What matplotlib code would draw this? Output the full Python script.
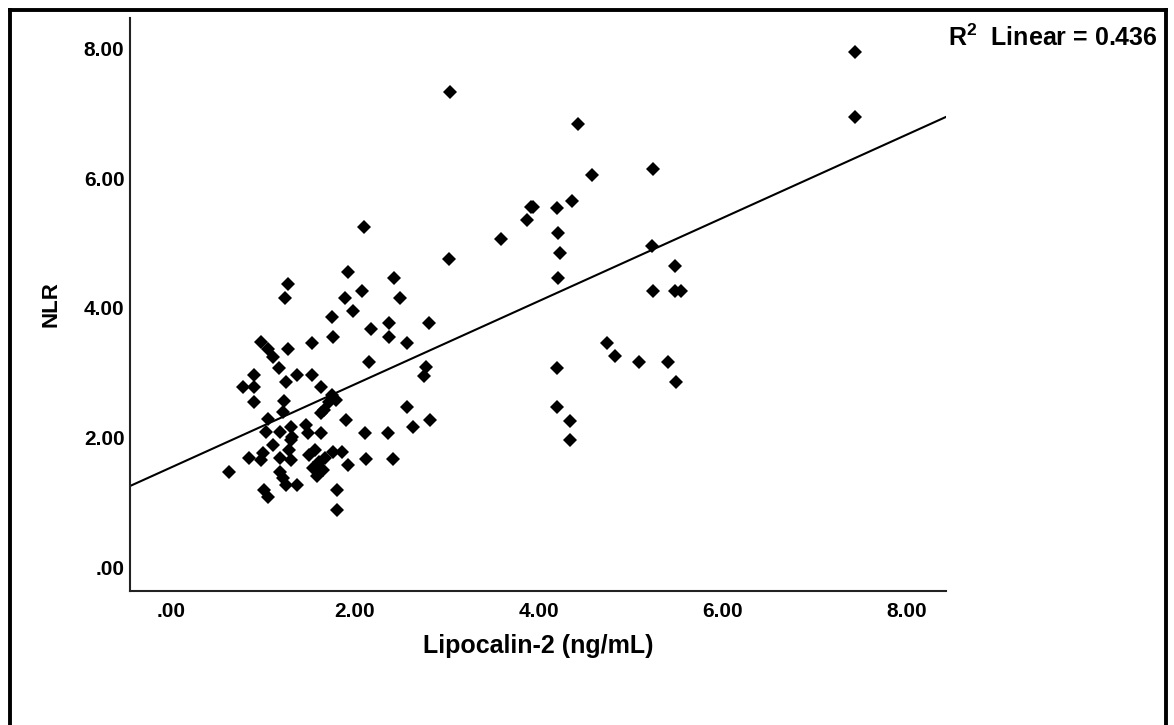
import matplotlib
matplotlib.use("Agg")
import matplotlib.pyplot as plt
from matplotlib.lines import Line2D
import numpy as np

plt.rcParams['font.family'] = ['Liberation Sans', 'DejaVu Sans']
plt.rcParams['font.weight'] = 'bold'
plt.rcParams['mathtext.fontset'] = 'custom'
plt.rcParams['mathtext.rm'] = 'Liberation Sans:bold'
plt.rcParams['mathtext.default'] = 'rm'

# Lipocalin-2 (ng/mL) vs NLR
lipocalin = [
    3.03, 7.44, 7.44, 4.43, 5.24, 4.58, 4.36, 3.91, 3.94, 4.20,
    3.87, 3.59, 4.21, 4.23, 3.02, 5.23, 4.21, 5.48, 5.24, 5.48,
    5.54, 4.74, 4.83, 5.09, 5.40, 5.49, 4.20, 4.20, 4.34, 4.34,
    2.10, 1.27, 1.24, 1.92, 2.08, 1.89, 2.42, 2.49, 1.98, 1.75,
    1.76, 2.18, 2.37, 2.37, 2.81, 2.57, 1.53, 0.98, 1.06, 1.11,
    1.27, 2.15, 1.18, 1.37, 1.53, 0.90, 0.78, 0.90, 0.90, 1.25,
    1.63, 2.77, 2.75, 1.75, 1.79, 1.72, 1.23, 2.57, 1.66, 1.63,
    1.22, 1.05, 1.90, 2.82, 2.63, 1.03, 1.19, 1.30, 1.32, 1.47,
    1.49, 1.63, 2.11, 2.36, 1.11, 1.30, 1.28, 1.00, 0.98, 0.85,
    1.19, 1.30, 1.76, 1.86, 1.92, 2.12, 2.41, 0.63, 1.19, 1.22,
    1.25, 1.37, 1.01, 1.06, 1.81, 1.81,
    1.50, 1.57, 1.61, 1.54, 1.65, 1.59, 1.68,
]
nlr = [
    7.33, 7.95, 6.94, 6.84, 6.14, 6.05, 5.65, 5.56, 5.56, 5.54,
    5.35, 5.06, 5.15, 4.85, 4.75, 4.95, 4.46, 4.65, 4.26, 4.26,
    4.26, 3.46, 3.26, 3.16, 3.16, 2.85, 3.07, 2.47, 2.25, 1.96,
    5.25, 4.37, 4.15, 4.55, 4.26, 4.15, 4.46, 4.15, 3.95, 3.86,
    3.55, 3.67, 3.77, 3.55, 3.77, 3.46, 3.46, 3.47, 3.36, 3.24,
    3.36, 3.16, 3.07, 2.96, 2.96, 2.96, 2.78, 2.78, 2.55, 2.85,
    2.78, 3.09, 2.95, 2.65, 2.58, 2.55, 2.56, 2.47, 2.42, 2.38,
    2.39, 2.28, 2.27, 2.27, 2.16, 2.08, 2.08, 2.16, 2.01, 2.19,
    2.07, 2.07, 2.07, 2.07, 1.88, 1.96, 1.81, 1.76, 1.65, 1.68,
    1.68, 1.65, 1.77, 1.77, 1.57, 1.67, 1.67, 1.47, 1.47, 1.37,
    1.27, 1.27, 1.19, 1.08, 1.19, 0.88,
    1.73, 1.81, 1.62, 1.53, 1.50, 1.40, 1.68,
]
tick_vals = [0, 2, 4, 6, 8]
tick_labels = ['.00', '2.00', '4.00', '6.00', '8.00']
r2_text = r'R$^{2}$  Linear = 0.436'

x = np.array(lipocalin)
y = np.array(nlr)

fig = plt.figure(figsize=(11.74, 7.25), dpi=100)
ax = fig.add_axes([0.1107, 0.1848, 0.6951, 0.7904])

xlim = (-0.445, 8.425)
ylim = (-0.37, 8.47)

# least squares line across the full x range
slope, intercept = np.polyfit(x, y, 1)
xx = np.array(xlim)
ax.plot(xx, intercept + slope * xx, color='black', lw=1.5, zorder=2)

ax.plot(x, y, linestyle='none', marker='D', markersize=7.4,
        color='black', markeredgewidth=0, zorder=3)

ax.set_xlim(*xlim)
ax.set_ylim(*ylim)
ax.set_xticks(tick_vals)
ax.set_xticklabels(tick_labels)
ax.set_yticks(tick_vals)
ax.set_yticklabels(tick_labels)
ax.tick_params(length=0, labelsize=15)
ax.tick_params(axis='x', pad=8)
ax.tick_params(axis='y', pad=4)

for side in ['top', 'right']:
    ax.spines[side].set_visible(False)
for side in ['left', 'bottom']:
    ax.spines[side].set_color('#222222')
    ax.spines[side].set_linewidth(1.5)

ax.set_xlabel('Lipocalin-2 (ng/mL)', fontsize=18, fontweight='bold', labelpad=9)
ax.set_ylabel('NLR', fontsize=16, fontweight='bold', labelpad=16)

fig.text(948 / 1174, 1 - 38 / 725, r2_text, fontsize=18, fontweight='bold',
         ha='left', va='center')

# outer frame (left, top, right)
fw = 2.8
fig.add_artist(Line2D([10 / 1174, 10 / 1174], [0, 1 - 9.5 / 725],
                      transform=fig.transFigure, color='black', lw=fw))
fig.add_artist(Line2D([10 / 1174, 1165.5 / 1174], [1 - 9.5 / 725, 1 - 9.5 / 725],
                      transform=fig.transFigure, color='black', lw=fw))
fig.add_artist(Line2D([1165.5 / 1174, 1165.5 / 1174], [0, 1 - 9.5 / 725],
                      transform=fig.transFigure, color='black', lw=fw))

fig.savefig('out.png', dpi=100, facecolor='white')
